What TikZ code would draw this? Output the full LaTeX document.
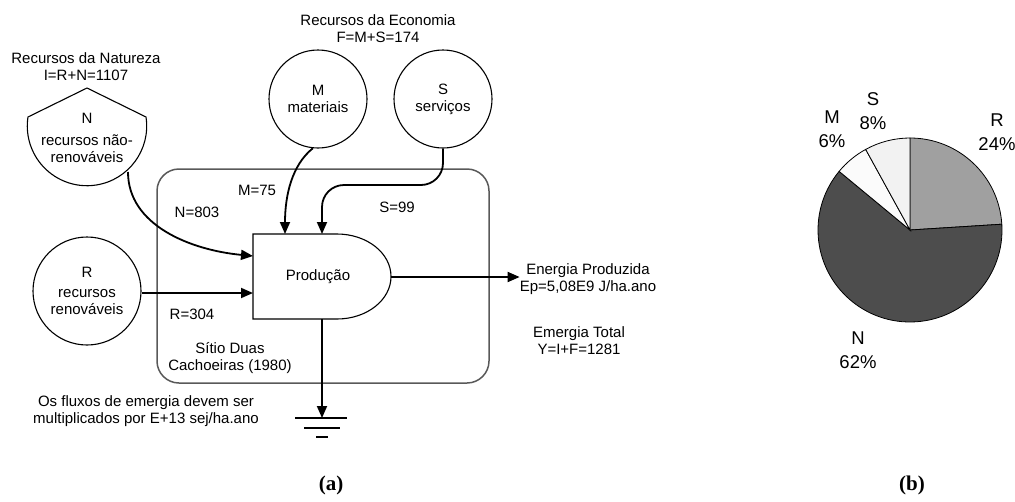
\documentclass[tikz,border=0pt]{standalone}
\usepackage{fontspec}
\setmainfont{Liberation Sans}
\newfontfamily\capfont{Liberation Serif}
\usetikzlibrary{arrows.meta}

\definecolor{sliceR}{HTML}{A0A0A0}
\definecolor{sliceN}{HTML}{4D4D4D}
\definecolor{sliceM}{HTML}{FBFBFB}
\definecolor{sliceS}{HTML}{F2F2F2}
\definecolor{boxgray}{HTML}{595959}

\begin{document}
\begin{tikzpicture}[x=1pt,y=-1pt,
  every node/.style={font=\fontsize{15}{17}\selectfont, align=center, inner sep=0pt},
  flow/.style={line width=1.8pt, -{Triangle[length=12pt,width=10pt]}},
  source/.style={circle, draw, line width=1.1pt},
  earth/.style={line width=2.4pt},
  slice/.style={draw=black, line width=0.8pt},
  pielabel/.style={font=\fontsize{18.5}{24}\selectfont},
  caption/.style={font=\capfont\bfseries\fontsize{21}{24}\selectfont}
]
\useasboundingbox (0,0) rectangle (1015,501);

% ---------- (a) emergy diagram ----------
% system boundary
\node[draw=boxgray, line width=1.5pt, rounded corners=22pt,
      minimum width=332pt, minimum height=214pt] (site) at (323,276) {};

% group headings
\node (natlbl) at (86,67) {Recursos da Natureza\\I=R+N=1107};
\node (ecolbl) at (378,29) {Recursos da Economia\\F=M+S=174};

% non-renewable source (pointed top, round bottom)
\draw[line width=1.1pt] (87,88) -- (146,117)
  arc[start angle=-8.7, end angle=188.7, radius=59.7] -- cycle;
\node (N) at (87,138) {N\\[5pt]recursos não-\\renováveis};
\coordinate (Nout) at (128,172);

% renewable and economic sources
\node[source, minimum size=108pt] (R) at (87,291) {R\\[3pt]recursos\\renováveis};
\node[source, minimum size=98pt] (M) at (318,99) {M\\materiais};
\node[source, minimum size=98pt] (S) at (443,99) {S\\serviços};

% production unit
\draw[line width=1.1pt] (253,234) -- (337,234)
  arc[start angle=-90, end angle=90, x radius=54, y radius=42.5]
  -- (253,319) -- cycle;
\node (P) at (318,277) {Produção};
\coordinate (Pn) at (253,256);
\coordinate (Pr) at (253,293);
\coordinate (Pm) at (285,234);
\coordinate (Ps) at (322,234);
\coordinate (Pout) at (391,277);
\coordinate (Pg) at (322,319);

% flows into production
\draw[flow] (Nout) .. controls (128,225) and (190,250) .. (Pn);
\draw[flow] (R.east |- Pr) -- (Pr);
\draw[flow] (M.-96) .. controls (292,165) and (285,195) .. (Pm);
\draw[flow, rounded corners=22pt] (S.south) |- (322,185) -- (Ps);

% flow labels
\node (lblM) at (257,190) {M=75};
\node (lblN) at (197,212) {N=803};
\node (lblS) at (397,207) {S=99};
\node (lblR) at (192,314) {R=304};
\node (sitio) at (230,358) {Sítio Duas\\Cachoeiras (1980)};

% output
\node (Ep) at (588,279) {Energia Produzida\\Ep=5,08E9 J/ha.ano};
\draw[flow] (Pout) -- (Pout -| Ep.west);
\node (Y) at (579,341) {Emergia Total\\Y=I+F=1281};

% heat sink
\coordinate (gnd) at (322,418);
\draw[flow] (Pg) -- (gnd);
\draw[earth] (295,418) -- (347,418);
\draw[earth] (304,428) -- (340,428);
\draw[earth] (316,437) -- (328,437);

\node (note) at (146,411) {Os fluxos de emergia devem ser\\multiplicados por E+13 sej/ha.ano};

\node[caption] (capa) at (331,485) {(a)};

% ---------- (b) pie chart ----------
\coordinate (pc) at (910,230);
\filldraw[slice, fill=sliceR] (pc) -- ++(-90:92) arc[start angle=-90, end angle=-3.6, radius=92] -- cycle;
\filldraw[slice, fill=sliceN] (pc) -- ++(-3.6:92) arc[start angle=-3.6, end angle=219.6, radius=92] -- cycle;
\filldraw[slice, fill=sliceM] (pc) -- ++(219.6:92) arc[start angle=219.6, end angle=241.2, radius=92] -- cycle;
\filldraw[slice, fill=sliceS] (pc) -- ++(241.2:92) arc[start angle=241.2, end angle=270, radius=92] -- cycle;

\node[pielabel] (labS) at (873,111) {S\\8\%};
\node[pielabel] (labM) at (832,129) {M\\6\%};
\node[pielabel] (labR) at (997,132) {R\\24\%};
\node[pielabel] (labN) at (858,350) {N\\62\%};

\node[caption] (capb) at (912,485) {(b)};
\end{tikzpicture}
\end{document}
